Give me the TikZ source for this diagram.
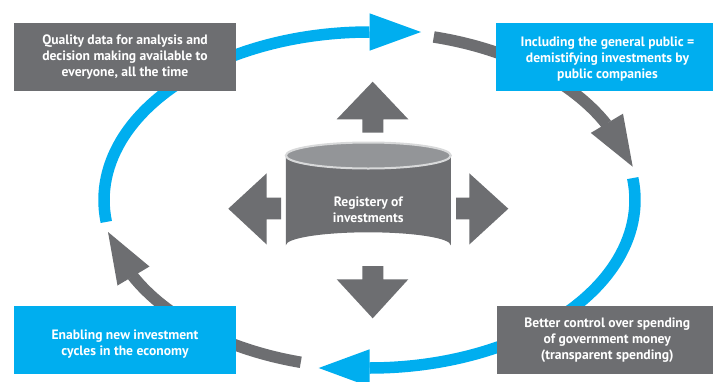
\documentclass[tikz,border=0pt]{standalone}
\usepackage{fontspec}
\setmainfont{PT Sans}[BoldFont={PT Sans Bold}]
\definecolor{rblue}{HTML}{00AEEF}
\definecolor{rgray}{HTML}{6D6E71}
\definecolor{rtop}{HTML}{939598}
\definecolor{rrim}{HTML}{D8D9DA}
\tikzset{
  ringblue/.style={draw=rblue,line width=11.5pt,line cap=butt},
  ringgray/.style={draw=rgray,line width=11.5pt,line cap=butt},
  headblue/.style={fill=rblue},
  headgray/.style={fill=rgray},
  boxnode/.style={minimum width=222pt,minimum height=67.7pt,inner sep=0pt,outer sep=0pt},
  labeltext/.style={text=white,font=\bfseries\fontsize{13.6}{16}\selectfont,align=center,inner sep=0pt},
  crossarrow/.style={fill=rgray}
}
\begin{document}
\begin{tikzpicture}[x=1pt,y=-1pt]
\clip (0,0) rectangle (713,381);
\fill[white] (0,0) rectangle (713,381);
\coordinate (O) at (369.5,200);
% ring arcs
\draw[ringblue] (O) ++(-187.5:265.5 and 168) arc[start angle=-187.5,end angle=-90,x radius=265.5,y radius=168];
\draw[ringgray] (O) ++(-76:265.5 and 168) arc[start angle=-76,end angle=-26.8,x radius=265.5,y radius=168];
\draw[ringblue] (O) ++(-7.5:265.5 and 168) arc[start angle=-7.5,end angle=90,x radius=265.5,y radius=168];
\draw[ringgray] (O) ++(105:265.5 and 168) arc[start angle=105,end angle=153.2,x radius=265.5,y radius=168];
% ring heads
\coordinate (h1a) at (369.5,13.3); \coordinate (h1b) at (369.5,50.7); \coordinate (h1t) at (421,32);
\fill[headblue] (h1a) -- (h1t) -- (h1b) -- cycle;
\coordinate (h2a) at (623,113.7); \coordinate (h2b) at (590.8,132.9); \coordinate (h2t) at (632.7,166.7);
\fill[headgray] (h2a) -- (h2t) -- (h2b) -- cycle;
\coordinate (h3a) at (369.5,349.3); \coordinate (h3b) at (369.5,386.7); \coordinate (h3t) at (318.7,368);
\fill[headblue] (h3a) -- (h3t) -- (h3b) -- cycle;
\coordinate (h4a) at (117.5,285.5); \coordinate (h4b) at (149.5,266.5); \coordinate (h4t) at (108,232);
\fill[headgray] (h4a) -- (h4t) -- (h4b) -- cycle;
% boxes
\node[boxnode,fill=rgray] (b1) at (125,56.85) {};
\node[labeltext] (t1) at (125,57.2) {Quality data for analysis and\\decision making available to\\everyone, all the time};
\node[boxnode,fill=rblue] (b2) at (607,56.85) {};
\node[labeltext] (t2) at (607.5,58.6) {Including the general public =\\demistifying investments by\\public companies};
\node[boxnode,fill=rblue] (b3) at (125,339.85) {};
\node[labeltext] (t3) at (125,344.2) {Enabling new investment\\cycles in the economy};
\node[boxnode,fill=rgray] (b4) at (608,339.85) {};
\node[labeltext] (t4) at (607.3,340.3) {Better control over spending\\of government money\\(transparent spending)};
% cross arrows
\fill[crossarrow] (372.7,81.7) -- (408.3,119.3) -- (383.3,119.3) -- (383.3,132.7) -- (362.3,132.7) -- (362.3,119.3) -- (336.7,119.3) -- cycle;
\fill[crossarrow] (372.7,318.3) -- (408.3,279.3) -- (383.3,279.3) -- (383.3,266) -- (362.3,266) -- (362.3,279.3) -- (336.7,279.3) -- cycle;
\fill[crossarrow] (228.3,208.7) -- (266.7,173.3) -- (266.7,197.7) -- (281,197.7) -- (281,219.3) -- (266.7,219.3) -- (266.7,244.5) -- cycle;
\fill[crossarrow] (508.3,208.7) -- (469.3,173.3) -- (469.3,197.7) -- (456,197.7) -- (456,219.3) -- (469.3,219.3) -- (469.3,244.5) -- cycle;
% cylinder
\coordinate (cyl) at (368.3,155.5);
\fill[rgray] (285.8,155.5) -- (285.8,245.3) arc[start angle=180,end angle=0,x radius=82.5,y radius=-13] -- (450.8,155.5) -- cycle;
\draw[fill=rtop,draw=rrim,line width=2pt] (cyl) ellipse[x radius=82.5,y radius=13];
\node[labeltext] (reg) at (368.3,209.3) {Registery of\\investments};
\end{tikzpicture}
\end{document}
